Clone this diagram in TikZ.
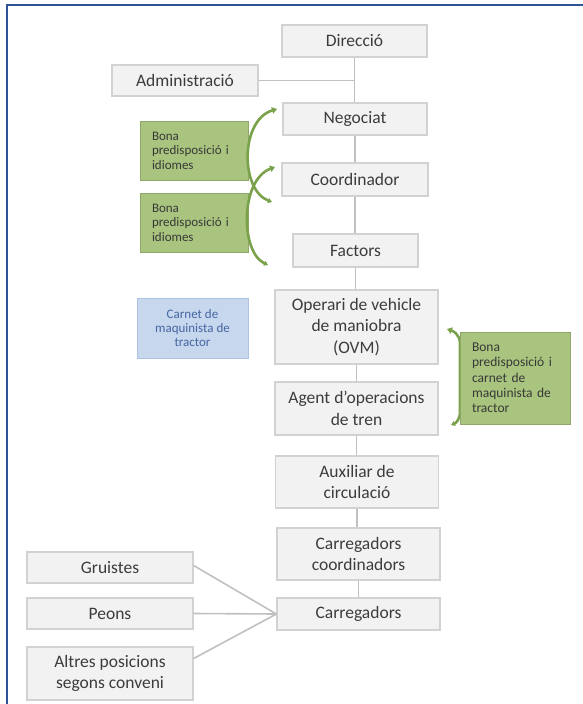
\documentclass[tikz,border=0pt]{standalone}
\usepackage{fontspec}
\setmainfont{Carlito}
\usetikzlibrary{arrows.meta}
\definecolor{boxfill}{RGB}{242,242,242}
\definecolor{boxline}{RGB}{210,210,210}
\definecolor{txt}{RGB}{60,60,60}
\definecolor{conn}{RGB}{192,192,192}
\definecolor{gfill}{RGB}{169,196,126}
\definecolor{gline}{RGB}{122,162,74}
\definecolor{bfill}{RGB}{198,215,238}
\definecolor{bline}{RGB}{172,194,224}
\definecolor{btxt}{RGB}{70,102,162}
\definecolor{framecol}{RGB}{47,84,150}
\begin{document}
\begin{tikzpicture}[x=1pt,y=-1pt,
  role/.style={draw=boxline, fill=boxfill, line width=1.2pt, text=txt,
    font=\fontsize{17.5}{21.5}\selectfont, align=center, inner sep=0pt},
  gnote/.style={draw=gfill!85!black, fill=gfill, line width=0.6pt, text=black!78,
    font=\fontsize{13}{14.5}\selectfont, align=left, inner xsep=12pt, inner ysep=0pt},
  bnote/.style={draw=bline, fill=bfill, line width=0.8pt, text=btxt,
    font=\fontsize{13}{13.8}\selectfont, align=center, inner sep=0pt},
  link/.style={draw=conn, line width=1.6pt},
  bracket/.style={draw=gline, line width=2.6pt,
    {Triangle[length=5pt,width=6.5pt]}-{Triangle[length=4pt,width=5pt]}}
]
\useasboundingbox (0,0) rectangle (583,704);
% frame
\draw[framecol, line width=2pt] (7,712) -- (7,5) -- (590,5);

% main column
\node[role, minimum width=145pt, minimum height=32pt] (dir) at (354.5,41) {Direcció};
\node[role, minimum width=146pt, minimum height=31pt] (adm) at (185,80.5) {Administració};
\node[role, minimum width=144pt, minimum height=32pt] (neg) at (355,119) {Negociat};
\node[role, minimum width=146pt, minimum height=33pt] (coo) at (355,179.5) {Coordinador};
\node[role, minimum width=125pt, minimum height=33pt] (fac) at (355.5,250.5) {Factors};
\node[role, minimum width=163pt, minimum height=74pt] (ovm) at (356.5,327) {Operari de vehicle\\de maniobra\\(OVM)};
\node[role, minimum width=163pt, minimum height=53pt] (agt) at (356.5,408.5) {Agent d’operacions\\de tren};
\node[role, minimum width=163pt, minimum height=52pt] (aux) at (357,482) {Auxiliar de\\circulació};
\node[role, minimum width=163pt, minimum height=52pt] (cc) at (358.5,554) {Carregadors\\coordinadors};
\node[role, minimum width=163pt, minimum height=32pt] (car) at (358.5,614) {Carregadors};
\node[role, minimum width=166pt, minimum height=31pt] (gru) at (110,567.5) {Gruistes};
\node[role, minimum width=166pt, minimum height=31pt] (peo) at (110,613.5) {Peons};
\node[role, minimum width=166pt, minimum height=53pt] (alt) at (110,673.5) {Altres posicions\\segons conveni};

% connectors
\draw[link] (dir.south) -- (dir.south |- neg.north);
\draw[link] (adm.east) -- (adm.east -| dir.south);
\draw[link] (neg.south) -- (neg.south |- coo.north);
\draw[link] (coo.south) -- (coo.south |- fac.north);
\draw[link] (fac.south) -- (fac.south |- ovm.north);
\draw[link] (ovm.south) -- (ovm.south |- agt.north);
\draw[link] (agt.south) -- (agt.south |- aux.north);
\draw[link] (aux.south) -- (aux.south |- cc.north);
\draw[link] (cc.south) -- (cc.south |- car.north);
\draw[link] ([yshift=2pt]gru.east) -- (car.west);
\draw[link] (peo.east) -- (car.west);
\draw[link] ([yshift=15pt]alt.east) -- (car.west);

% notes
\node[gnote, text width=84pt, minimum height=59pt] (g1) at (194,150.5) {Bona\\predisposició i\\idiomes};
\node[gnote, text width=84pt, minimum height=59pt] (g2) at (194,222.5) {Bona\\predisposició i\\idiomes};
\node[bnote, minimum width=111pt, minimum height=60pt] (bl) at (192.5,328) {Carnet de\\maquinista de\\tractor};

% right callout bracket (behind its box)
\coordinate (r1) at (447,329);
\coordinate (r2) at (451,425);
\draw[bracket] (r1) .. controls (453,331) and (459,334) .. (460,342) -- (460,414) .. controls (459,420) and (456,423) .. (r2);
\node[gnote, text width=86pt, minimum height=92pt, font=\fontsize{13.5}{15.3}\selectfont] (g3) at (515,378) {Bona\\predisposició i\\carnet de\\maquinista de\\tractor};

% left callout brackets
\coordinate (a1) at (277,109);
\coordinate (a2) at (272,202);
\coordinate (b1) at (275,167);
\coordinate (b2) at (268,265);
\draw[bracket] (a1) .. controls (240,120) and (240,190) .. (a2);
\draw[bracket] (b1) .. controls (240,180) and (240,252) .. (b2);
\end{tikzpicture}
\end{document}
